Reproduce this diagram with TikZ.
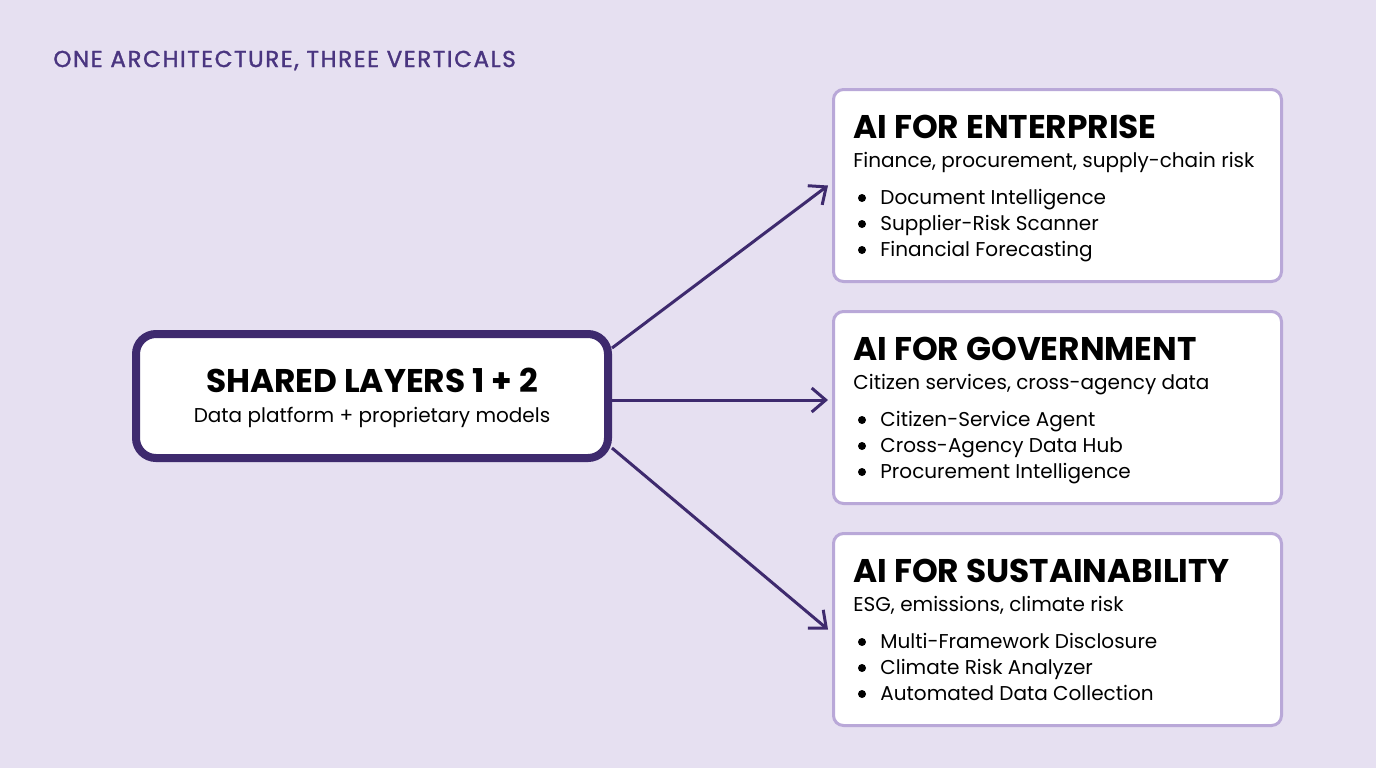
\documentclass[tikz,border=0pt]{standalone}
\usepackage{fontspec}
\setmainfont{Poppins}
\usetikzlibrary{arrows.meta}
\definecolor{bg}{HTML}{E6E0F1}
\definecolor{dp}{HTML}{3E2A6E}
\definecolor{tp}{HTML}{4A3580}
\definecolor{lp}{HTML}{B9A8D8}
\begin{document}
\begin{tikzpicture}[x=0.5pt,y=-0.5pt,
  vbox/.style={draw=lp,line width=1.5pt,fill=white,rounded corners=5pt,minimum width=224pt,minimum height=96pt,anchor=north west,inner sep=0},
  head/.style={anchor=base west,font=\bfseries\fontsize{16.4}{18}\selectfont,text=black,inner sep=0},
  sub/.style={anchor=base west,font=\fontsize{10}{12}\selectfont,text=black,inner sep=0},
  item/.style={anchor=base west,font=\fontsize{10}{12}\selectfont,text=black,inner sep=0},
  arr/.style={draw=dp,line width=1.5pt,-{Straight Barb[length=7pt,width=12pt]}}]
\fill[bg] (0,0) rectangle (1376,768);
\useasboundingbox (0,0) rectangle (1376,768);
\node[anchor=base west,font=\fontsize{11.5}{13}\selectfont\addfontfeatures{LetterSpace=7,FakeBold=1.5},text=tp,inner sep=0] (title) at (53,67) {ONE ARCHITECTURE, THREE VERTICALS};
\node[draw=dp,line width=4pt,fill=white,rounded corners=10pt,minimum width=236pt,minimum height=62pt] (shared) at (372,396) {};
\node[anchor=base,font=\bfseries\fontsize{16.4}{18}\selectfont,inner sep=0] (sh1) at (372,392) {SHARED LAYERS 1 + 2};
\node[anchor=base,font=\fontsize{10}{12}\selectfont,inner sep=0] (sh2) at (372,422) {Data platform + proprietary models};
\node[vbox] (ent) at (832,88) {};
\node[vbox] (gov) at (832,310) {};
\node[vbox] (sus) at (832,532) {};
\foreach \n/\y/\h/\s/\a/\b/\c in {
 e/138/AI FOR ENTERPRISE/{Finance, procurement, supply-chain risk}/Document Intelligence/Supplier-Risk Scanner/Financial Forecasting,
 g/360/AI FOR GOVERNMENT/{Citizen services, cross-agency data}/Citizen-Service Agent/Cross-Agency Data Hub/Procurement Intelligence,
 s/582/AI FOR SUSTAINABILITY/{ESG, emissions, climate risk}/Multi-Framework Disclosure/Climate Risk Analyzer/Automated Data Collection}{
 \node[head] (\n h) at (853,\y) {\h};
 \node[sub] (\n s) at (853,\y+29) {\s};
 \node[item] (\n 1) at (880,\y+66) {\a};
 \node[item] (\n 2) at (880,\y+92) {\b};
 \node[item] (\n 3) at (880,\y+118) {\c};
 \foreach \k in {1,2,3}{\fill (862,\y+60+26*\k-26) circle (2pt);}
}
\draw[arr] ([yshift=24pt]shared.east) -- ([xshift=-2pt]ent.west);
\draw[arr] ([yshift=-2pt]shared.east) -- ([yshift=-2pt,xshift=-2pt]shared.east -| gov.west);
\draw[arr] ([yshift=-26pt]shared.east) -- ([xshift=-2pt]sus.west);
\end{tikzpicture}
\end{document}
